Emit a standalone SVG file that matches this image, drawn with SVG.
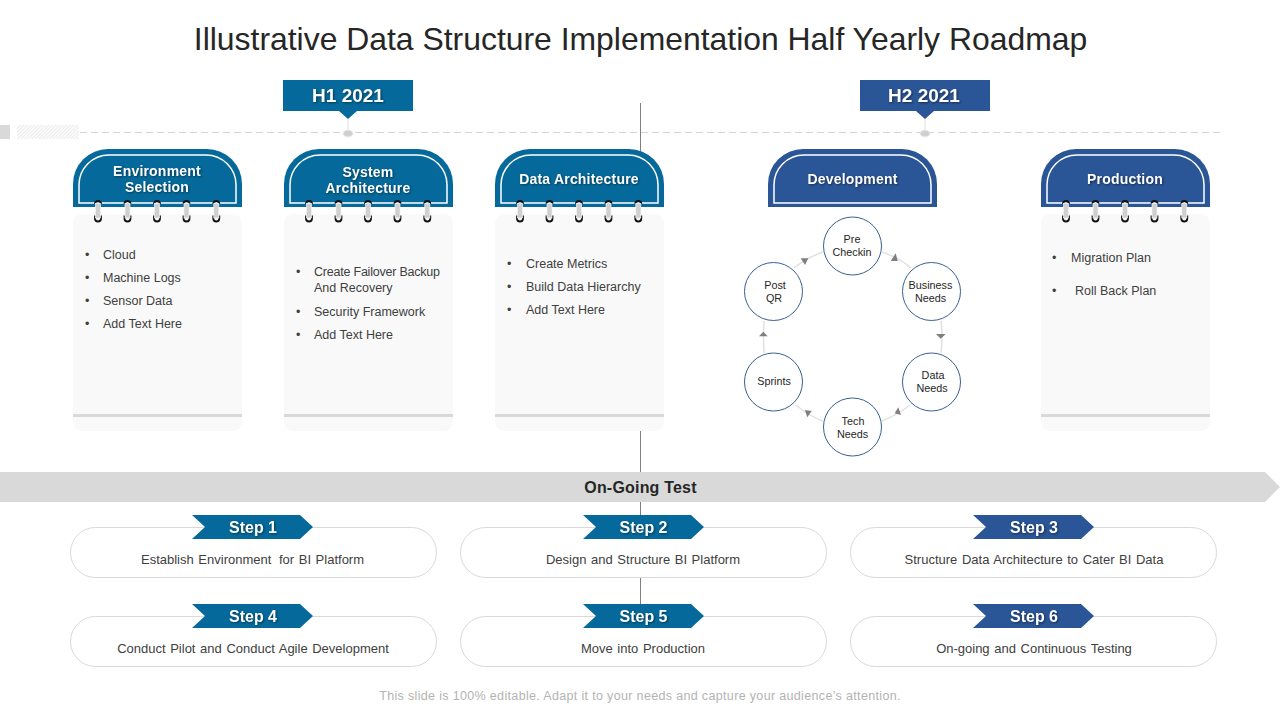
<svg xmlns="http://www.w3.org/2000/svg" width="1280" height="720" viewBox="0 0 1280 720">
<style>
text{font-family:"Liberation Sans",Arial,sans-serif}
.title{font-size:31.900px;fill:#262626;text-anchor:middle}
.hd{font-size:19px;font-weight:bold;fill:#fff;text-anchor:middle;filter:drop-shadow(1px 1px 1px rgba(0,0,0,.45))}
.tab{font-size:14px;font-weight:bold;fill:#fff;text-anchor:middle;letter-spacing:.2px;filter:drop-shadow(1px 1px 1px rgba(0,0,0,.45))}
.li{font-size:12.500px;fill:#404040}
.bu{font-size:12.500px;fill:#404040}
.c{font-size:10.800px;fill:#262626;text-anchor:middle}
.st{font-size:16px;font-weight:bold;fill:#fff;text-anchor:middle;filter:drop-shadow(1px 1px 1px rgba(0,0,0,.45))}
.d{font-size:13px;fill:#404040;text-anchor:middle;word-spacing:1px}
.note{fill:#f9f9f9}
.rule{fill:#d9d9d9}
.inner{fill:none;stroke:#fff;stroke-width:1.500}
.circ{fill:#fff;stroke:#3a5f92;stroke-width:1}
.pill{fill:#fff;stroke:#d9d9d9;stroke-width:1}
.arc{fill:none;stroke:#e2e2e2;stroke-width:1.500}
.tri{fill:#7f7f7f}
.teal{fill:#056a9b}
.blue{fill:#2a5596}
</style>
<defs>
<pattern id="hatch" width="2.500" height="2.500" patternUnits="userSpaceOnUse" patternTransform="rotate(45)"><rect width="2.500" height="2.500" fill="#fff"/><rect width="1.200" height="2.500" fill="#ececec"/></pattern>
<g id="ring"><path d="M-3 15V18a3 3 0 0 0 6 0V15" fill="none" stroke="#111" stroke-width="1.800"/><path d="M-3 3.500a3 3 0 0 1 6 0" fill="none" stroke="#111" stroke-width="1.800"/><rect x="-2.500" y="3" width="5" height="14.500" fill="#d0d0d0" stroke="#f4f4f4" stroke-width=".7"/></g>
<g id="rings"><use href="#ring" x="98" y="200.500"/><use href="#ring" x="127.500" y="200.500"/><use href="#ring" x="157" y="200.500"/><use href="#ring" x="186.500" y="200.500"/><use href="#ring" x="216.300" y="200.500"/></g>
<path id="tabo" d="M73 207V184a35 35 0 0 1 35-35H207a35 35 0 0 1 35 35V207Z"/>
<path id="tabi" d="M79 203V185a30 30 0 0 1 30-30H206a30 30 0 0 1 30 30V203Z" class="inner"/>
<g id="paper"><rect x="73" y="214" width="169" height="217" rx="9" class="note"/><rect x="73" y="414" width="169" height="3" class="rule"/></g>
<path id="chev" d="M0 0H108L121 12 108 24H0L13 12Z"/>
</defs>
<text class="title" x="640.500" y="50">Illustrative Data Structure Implementation Half Yearly Roadmap</text>
<g id="connectors">
<line x1="640.500" y1="103" x2="640.500" y2="616" stroke="#7f7f7f" stroke-width="1"/>
<line x1="80" y1="132.500" x2="1220" y2="132.500" stroke="#d4d4d4" stroke-width="1" stroke-dasharray="7 4"/>
<line x1="348" y1="119" x2="348" y2="130" stroke="#e0e0e0"/>
<line x1="925" y1="119" x2="925" y2="130" stroke="#e0e0e0"/>
</g>
<g id="timeline">
<rect x="0" y="125" width="10" height="14" fill="#d9d9d9"/>
<rect x="17" y="125" width="62" height="14" fill="url(#hatch)"/>
<ellipse cx="348" cy="133.500" rx="5" ry="3.500" fill="#d0d0d0" stroke="#eee"/>
<ellipse cx="925" cy="133.500" rx="5" ry="3.500" fill="#d0d0d0" stroke="#eee"/>
</g>
<g id="h1"><path class="teal" d="M283 80H413V111H357L348 119 339 111H283Z"/><text class="hd" x="348" y="102">H1 2021</text></g>
<g id="h2"><path class="blue" d="M860 80H990V111H934L925 119 916 111H860Z"/><text class="hd" x="924" y="102">H2 2021</text></g>
<g id="card-environment">
<use href="#paper"/><use href="#tabo" class="teal"/><use href="#tabi"/><use href="#rings"/>
<text class="tab" x="157" y="176">Environment</text><text class="tab" x="157" y="192">Selection</text>
<text class="bu" x="85" y="258.500">•</text><text class="li" x="103" y="258.500">Cloud</text>
<text class="bu" x="85" y="281.500">•</text><text class="li" x="103" y="281.500">Machine Logs</text>
<text class="bu" x="85" y="304.500">•</text><text class="li" x="103" y="304.500">Sensor Data</text>
<text class="bu" x="85" y="327.500">•</text><text class="li" x="103" y="327.500">Add Text Here</text>
</g>
<g id="card-system" transform="translate(211,0)">
<use href="#paper"/><use href="#tabo" class="teal"/><use href="#tabi"/><use href="#rings"/>
<text class="tab" x="157" y="177">System</text><text class="tab" x="157" y="193">Architecture</text>
<text class="bu" x="85" y="275.500">•</text><text class="li" x="103" y="275.500" textLength="126">Create Failover Backup</text>
<text class="li" x="103" y="291.500">And Recovery</text>
<text class="bu" x="85" y="315.500">•</text><text class="li" x="103" y="315.500">Security Framework</text>
<text class="bu" x="85" y="338.500">•</text><text class="li" x="103" y="338.500">Add Text Here</text>
</g>
<g id="card-data" transform="translate(422,0)">
<use href="#paper"/><use href="#tabo" class="teal"/><use href="#tabi"/><use href="#rings"/>
<text class="tab" x="157" y="184">Data Architecture</text>
<text class="bu" x="85" y="267.500">•</text><text class="li" x="104" y="267.500">Create Metrics</text>
<text class="bu" x="85" y="290.500">•</text><text class="li" x="104" y="290.500">Build Data Hierarchy</text>
<text class="bu" x="85" y="313.500">•</text><text class="li" x="104" y="313.500">Add Text Here</text>
</g>
<g id="card-development" transform="translate(695,0)">
<use href="#tabo" class="blue"/><use href="#tabi"/>
<text class="tab" x="157.500" y="184">Development</text>
</g>
<g id="card-production" transform="translate(968,0)">
<use href="#paper"/><use href="#tabo" class="blue"/><use href="#tabi"/><use href="#rings"/>
<text class="tab" x="157" y="184">Production</text>
<text class="bu" x="84" y="261.500">•</text><text class="li" x="103" y="261.500">Migration Plan</text>
<text class="bu" x="84" y="294.500">•</text><text class="li" x="107" y="294.500">Roll Back Plan</text>
</g>
<g id="cycle-arrows">
<path class="arc" d="M882 252Q900 258 911 268"/>
<path class="arc" d="M941 321Q943 337 941 353"/>
<path class="arc" d="M910 405Q897 415 882 421"/>
<path class="arc" d="M823 421Q809 416 796 405"/>
<path class="arc" d="M764 353Q763 337 764 321"/>
<path class="arc" d="M794 268Q806 258 823 252"/>
<path class="tri" d="M895.700 253.300L890.700 261 897.700 261Z"/>
<path class="tri" d="M936 334H945.700L940.700 338.700Z"/>
<path class="tri" d="M898.300 407.300L894.700 413.300 901 415Z"/>
<path class="tri" d="M805 410L811.700 411 807.300 417.300Z"/>
<path class="tri" d="M763.300 331.700L759 336.300H767.700Z"/>
<path class="tri" d="M800.700 258.300H808.300L805 265Z"/>
</g>
<g id="node-pre"><circle class="circ" cx="852.500" cy="246" r="29"/><text class="c" x="852" y="243">Pre</text><text class="c" x="852" y="256">Checkin</text></g>
<g id="node-business"><circle class="circ" cx="931.500" cy="291.500" r="29"/><text class="c" x="930.500" y="289">Business</text><text class="c" x="930.500" y="302">Needs</text></g>
<g id="node-data"><circle class="circ" cx="931.500" cy="382" r="29"/><text class="c" x="933" y="379">Data</text><text class="c" x="932" y="392">Needs</text></g>
<g id="node-tech"><circle class="circ" cx="852.500" cy="427" r="29"/><text class="c" x="853" y="425">Tech</text><text class="c" x="852.500" y="438">Needs</text></g>
<g id="node-sprints"><circle class="circ" cx="773.500" cy="382" r="29"/><text class="c" x="774" y="385">Sprints</text></g>
<g id="node-post"><circle class="circ" cx="773.500" cy="291.500" r="29"/><text class="c" x="775" y="289">Post</text><text class="c" x="774" y="302">QR</text></g>
<g id="ongoing"><path fill="#d9d9d9" d="M0 472H1265L1280 487 1265 502H0Z"/><text x="640.500" y="492.500" font-size="16" font-weight="bold" fill="#262626" text-anchor="middle" letter-spacing=".2">On-Going Test</text></g>
<g id="step1"><rect class="pill" x="70.500" y="527.500" width="366" height="50" rx="25"/><use href="#chev" x="192" y="515" class="teal"/><text class="st" x="253" y="533">Step 1</text><text class="d" x="252.500" y="564">Establish Environment <tspan dx="3">for BI Platform</tspan></text></g>
<g id="step2"><rect class="pill" x="460.500" y="527.500" width="366" height="50" rx="25"/><use href="#chev" x="583" y="515" class="teal"/><text class="st" x="643.500" y="533">Step 2</text><text class="d" x="643" y="564">Design and Structure BI Platform</text></g>
<g id="step3"><rect class="pill" x="850.500" y="527.500" width="366" height="50" rx="25"/><use href="#chev" x="973" y="515" class="blue"/><text class="st" x="1034" y="533">Step 3</text><text class="d" x="1034" y="564">Structure Data Architecture to Cater BI Data</text></g>
<g id="step4"><rect class="pill" x="70.500" y="616.500" width="366" height="50" rx="25"/><use href="#chev" x="192" y="604" class="teal"/><text class="st" x="253" y="622">Step 4</text><text class="d" x="253" y="653">Conduct Pilot and Conduct Agile Development</text></g>
<g id="step5"><rect class="pill" x="460.500" y="616.500" width="366" height="50" rx="25"/><use href="#chev" x="583" y="604" class="teal"/><text class="st" x="643.500" y="622">Step 5</text><text class="d" x="643" y="653">Move into Production</text></g>
<g id="step6"><rect class="pill" x="850.500" y="616.500" width="366" height="50" rx="25"/><use href="#chev" x="973" y="604" class="blue"/><text class="st" x="1034" y="622">Step 6</text><text class="d" x="1034" y="653">On-going and Continuous Testing</text></g>
<text x="640" y="700" font-size="12.500" fill="#b3b3b3" text-anchor="middle" letter-spacing=".34">This slide is 100% editable. Adapt it to your needs and capture your audience’s attention.</text>
</svg>
